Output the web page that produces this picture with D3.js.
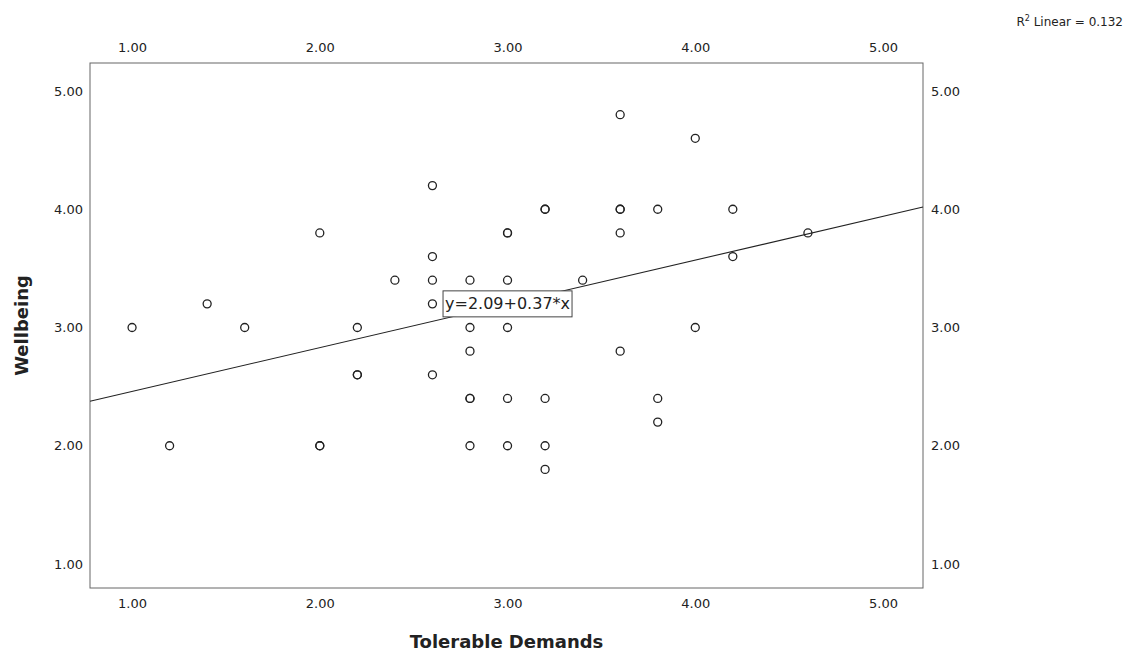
<!DOCTYPE html>
<html>
<head>
<meta charset="utf-8">
<script src="https://cdn.jsdelivr.net/npm/d3@7"></script>
<style>
  body { margin: 0; background: #fff; }
  svg text { font-family: "DejaVu Sans", sans-serif; fill: #222; }
</style>
</head>
<body>
<div id="chart"></div>
<script>
// Tolerable Demands (x) vs Wellbeing (y), duplicates kept as-is
const demands = [1.0, 1.2, 1.4, 1.6, 2.0, 2.0, 2.0, 2.2, 2.2, 2.2, 2.4, 2.6, 2.6, 2.6, 2.6, 2.6,
  2.8, 2.8, 2.8, 2.8, 2.8, 2.8, 3.0, 3.0, 3.0, 3.0, 3.0, 3.0, 3.2, 3.2, 3.2, 3.2, 3.2,
  3.4, 3.6, 3.6, 3.6, 3.6, 3.6, 3.8, 3.8, 3.8, 4.0, 4.0, 4.2, 4.2, 4.6];
const wellbeing = [3.0, 2.0, 3.2, 3.0, 3.8, 2.0, 2.0, 3.0, 2.6, 2.6, 3.4, 4.2, 3.6, 3.4, 3.2, 2.6,
  3.4, 3.0, 2.8, 2.4, 2.4, 2.0, 3.8, 3.8, 3.4, 3.0, 2.4, 2.0, 4.0, 4.0, 2.4, 2.0, 1.8,
  3.4, 4.8, 4.0, 4.0, 3.8, 2.8, 4.0, 2.4, 2.2, 4.6, 3.0, 4.0, 3.6, 3.8];
const ticks = [1, 2, 3, 4, 5];
const intercept = 2.09;
const slope = 0.37;
const r2 = 0.132;

const width = 1131, height = 657;
const box = { left: 90, right: 923, top: 63, bottom: 588 };

const svg = d3.select("#chart").append("svg")
  .attr("width", width)
  .attr("height", height);

const x = d3.scaleLinear().domain([0.776, 5.213]).range([box.left, box.right]);
const y = d3.scaleLinear().domain([0.797, 5.237]).range([box.bottom, box.top]);

const fmt = d3.format(".2f");

// frame
svg.append("rect")
  .attr("x", box.left).attr("y", box.top)
  .attr("width", box.right - box.left).attr("height", box.bottom - box.top)
  .attr("fill", "none").attr("stroke", "#666").attr("stroke-width", 1);

// axes on all four sides, labels only (no tick marks)
function styleAxis(g) {
  g.select(".domain").remove();
  g.selectAll(".tick line").remove();
  g.selectAll(".tick text").attr("font-size", 13).attr("fill", "#222");
}
svg.append("g").attr("transform", "translate(0," + box.bottom + ")")
  .call(d3.axisBottom(x).tickValues(ticks).tickFormat(fmt).tickSize(0).tickPadding(11))
  .call(styleAxis);
svg.append("g").attr("transform", "translate(0," + box.top + ")")
  .call(d3.axisTop(x).tickValues(ticks).tickFormat(fmt).tickSize(0).tickPadding(11))
  .call(styleAxis);
svg.append("g").attr("transform", "translate(" + box.left + ",0)")
  .call(d3.axisLeft(y).tickValues(ticks).tickFormat(fmt).tickSize(0).tickPadding(7))
  .call(styleAxis);
svg.append("g").attr("transform", "translate(" + box.right + ",0)")
  .call(d3.axisRight(y).tickValues(ticks).tickFormat(fmt).tickSize(0).tickPadding(8))
  .call(styleAxis);

// fit line
const x0 = x.domain()[0], x1 = x.domain()[1];
svg.append("line")
  .attr("x1", x(x0)).attr("y1", y(intercept + slope * x0))
  .attr("x2", x(x1)).attr("y2", y(intercept + slope * x1))
  .attr("stroke", "#222").attr("stroke-width", 1.1);

// points
svg.append("g").selectAll("circle")
  .data(demands.map((d, i) => ({ x: d, y: wellbeing[i] })))
  .join("circle")
  .attr("cx", d => x(d.x))
  .attr("cy", d => y(d.y))
  .attr("r", 4)
  .attr("fill", "none")
  .attr("stroke", "#222")
  .attr("stroke-width", 1.3);

// equation label on the line at x = 3
const lx = 3, ly = intercept + slope * lx;
const lab = svg.append("g").attr("transform", "translate(" + x(lx) + "," + y(ly) + ")");
const t = lab.append("text")
  .attr("text-anchor", "middle")
  .attr("dy", "0.35em")
  .attr("font-size", 16)
  .attr("fill", "#111")
  .text("y=" + intercept + "+" + slope + "*x");
const bb = t.node().getBBox();
lab.insert("rect", "text")
  .attr("x", bb.x - 2).attr("y", -13)
  .attr("width", bb.width + 4).attr("height", 26)
  .attr("fill", "#fff").attr("stroke", "#444").attr("stroke-width", 1);

// axis titles
svg.append("text")
  .attr("x", (box.left + box.right) / 2).attr("y", 648)
  .attr("text-anchor", "middle")
  .attr("font-size", 18).attr("font-weight", "bold")
  .text("Tolerable Demands");
svg.append("text")
  .attr("transform", "translate(28," + (box.top + box.bottom) / 2 + ") rotate(-90)")
  .attr("text-anchor", "middle")
  .attr("font-size", 18).attr("font-weight", "bold")
  .text("Wellbeing");

// R squared note
const r = svg.append("text")
  .attr("x", 1123).attr("y", 26)
  .attr("text-anchor", "end")
  .attr("font-size", 12);
r.append("tspan").text("R");
r.append("tspan").attr("font-size", 8).attr("dy", -5).text("2");
r.append("tspan").attr("dy", 5).text(" Linear = " + r2);
</script>
</body>
</html>
